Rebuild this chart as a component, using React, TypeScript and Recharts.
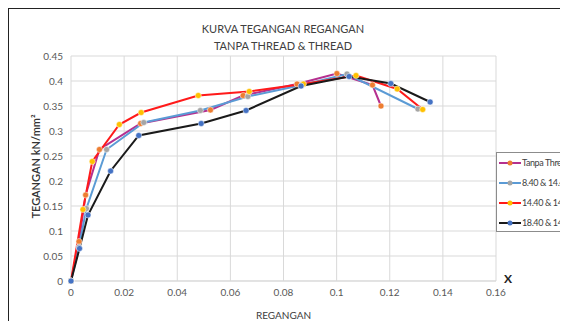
import React from 'react';
import { LineChart, Line, XAxis, YAxis, CartesianGrid } from 'recharts';

type Pt = { x: number; y: number };

const tanpaThread: Pt[] = [
  { x: 0, y: 0 }, { x: 0.003, y: 0.079 }, { x: 0.0055, y: 0.172 }, { x: 0.0107, y: 0.263 },
  { x: 0.0262, y: 0.315 }, { x: 0.0525, y: 0.342 }, { x: 0.0648, y: 0.371 }, { x: 0.0851, y: 0.394 },
  { x: 0.1001, y: 0.415 }, { x: 0.1135, y: 0.392 }, { x: 0.1167, y: 0.35 },
];
const thread840: Pt[] = [
  { x: 0, y: 0 }, { x: 0.003, y: 0.068 }, { x: 0.0058, y: 0.145 }, { x: 0.0134, y: 0.263 },
  { x: 0.0274, y: 0.317 }, { x: 0.0487, y: 0.341 }, { x: 0.0666, y: 0.369 }, { x: 0.087, y: 0.392 },
  { x: 0.1039, y: 0.414 }, { x: 0.1306, y: 0.344 },
];
const thread1440: Pt[] = [
  { x: 0, y: 0 }, { x: 0.0045, y: 0.143 }, { x: 0.008, y: 0.239 }, { x: 0.0182, y: 0.313 },
  { x: 0.0264, y: 0.337 }, { x: 0.0479, y: 0.371 }, { x: 0.0671, y: 0.379 }, { x: 0.0875, y: 0.394 },
  { x: 0.1073, y: 0.411 }, { x: 0.1228, y: 0.384 }, { x: 0.1324, y: 0.343 },
];
const thread1840: Pt[] = [
  { x: 0, y: 0 }, { x: 0.0032, y: 0.065 }, { x: 0.0064, y: 0.132 }, { x: 0.0149, y: 0.22 },
  { x: 0.0255, y: 0.291 }, { x: 0.049, y: 0.315 }, { x: 0.0659, y: 0.341 }, { x: 0.0866, y: 0.39 },
  { x: 0.1047, y: 0.409 }, { x: 0.1204, y: 0.395 }, { x: 0.1352, y: 0.358 },
];

const xTicks = [0, 0.02, 0.04, 0.06, 0.08, 0.1, 0.12, 0.14, 0.16];
const yTicks = [0, 0.05, 0.1, 0.15, 0.2, 0.25, 0.3, 0.35, 0.4, 0.45];

const series = [
  { name: 'Tanpa Thread', data: tanpaThread, line: '#b5308f', marker: '#ed7d31' },
  { name: '8.40 & 14.40', data: thread840, line: '#5b9bd5', marker: '#a5a5a5' },
  { name: '14.40 & 14.40', data: thread1440, line: '#ff1a1a', marker: '#ffc000' },
  { name: '18.40 & 14.40', data: thread1840, line: '#1a1a1a', marker: '#4472c4' },
];

const font = 'Lato, "Open Sans", sans-serif';
const tickStyle = { fill: '#595959', fontSize: 10, fontFamily: font };

export default function App() {
  return (
    <div style={{ position: 'relative', width: 600, height: 330, border: '1px solid #222', fontFamily: font }}>
      <div style={{ position: 'absolute', left: 0, width: 548, top: 11, textAlign: 'center', fontSize: 11, lineHeight: '17px', color: '#404040' }}>
        KURVA TEGANGAN REGANGAN<br />TANPA THREAD &amp; THREAD
      </div>
      <LineChart width={560} height={320} margin={{ top: 47, right: 73, bottom: 8, left: 0 }}>
        <CartesianGrid stroke="#d9d9d9" />
        <XAxis
          type="number"
          dataKey="x"
          domain={[0, 0.16]}
          ticks={xTicks}
          tick={tickStyle}
          tickFormatter={(v: number) => String(v)}
          axisLine={{ stroke: '#d9d9d9' }}
          tickLine={false}
          height={40}
          label={{ value: 'REGANGAN', position: 'insideBottom', offset: 2, style: { fill: '#404040', fontSize: 10, fontFamily: font } }}
        />
        <YAxis
          type="number"
          dataKey="y"
          domain={[0, 0.45]}
          ticks={yTicks}
          tick={tickStyle}
          tickFormatter={(v: number) => String(v)}
          axisLine={false}
          tickLine={false}
          width={62}
          label={{ value: 'TEGANGAN kN/mm²', angle: -90, position: 'insideLeft', offset: 27, dy: -2, style: { fill: '#333', fontSize: 11, fontWeight: 600, fontFamily: font, textAnchor: 'middle' } }}
        />
        {series.map((s) => (
          <Line
            key={s.name}
            data={s.data}
            dataKey="y"
            name={s.name}
            stroke={s.line}
            strokeWidth={2}
            dot={{ r: 3, fill: s.marker, stroke: '#fff', strokeWidth: 0.5 }}
            isAnimationActive={false}
          />
        ))}
      </LineChart>
      <div style={{ position: 'absolute', left: 495, top: 262, fontSize: 12, fontWeight: 'bold', color: '#222' }}>X</div>
      <div style={{ position: 'absolute', left: 487, top: 143, width: 120, height: 78, border: '1px solid #8c8c8c', background: '#fff' }}>
        {series.map((s, i) => (
          <div key={s.name} style={{ position: 'absolute', left: 2, top: 4 + i * 20, display: 'flex', alignItems: 'center', fontSize: 9, letterSpacing: -0.4, color: '#404040', whiteSpace: 'nowrap' }}>
            <svg width={22} height={10} style={{ marginRight: 1 }}>
              <line x1={0} y1={5} x2={22} y2={5} stroke={s.line} strokeWidth={2} />
              <circle cx={11} cy={5} r={2.5} fill={s.marker} />
            </svg>
            {s.name}
          </div>
        ))}
      </div>
    </div>
  );
}
